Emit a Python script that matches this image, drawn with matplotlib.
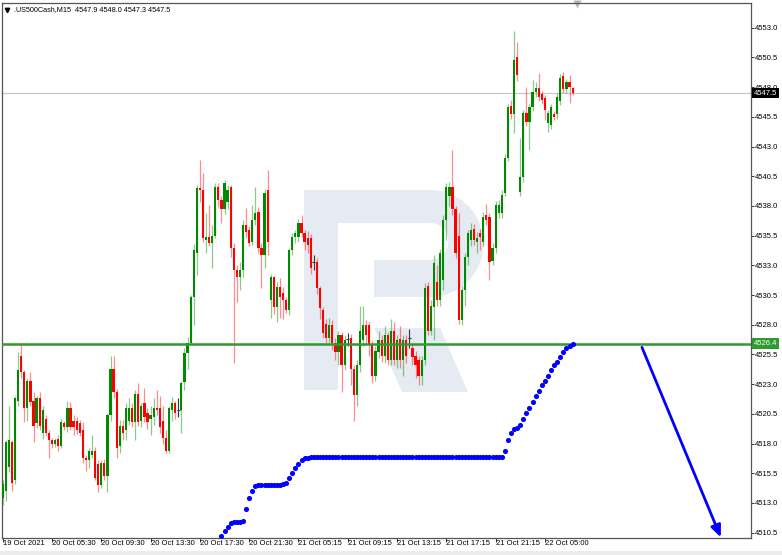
import numpy as np
import matplotlib.pyplot as plt
import matplotlib.transforms as mtransforms
from matplotlib.patches import Rectangle, Wedge, Polygon, FancyArrowPatch

plt.rcParams['font.family'] = ['Liberation Sans', 'DejaVu Sans']

# ==============================
# DATA (M15 candles)
# ==============================
header = ".US500Cash,M15  4547.9 4548.0 4547.3 4547.5"

opens = [
    4513.4, 4514.0, 4516.0, 4518.1, 4514.9, 4521.6, 4525.4, 4524.0, 4521.0, 4523.3,
    4521.6, 4519.7, 4521.8, 4518.9, 4520.1, 4518.9, 4518.3, 4518.0, 4518.4, 4517.8,
    4519.7, 4519.4, 4521.0, 4519.9, 4519.9, 4519.7, 4519.1, 4516.8, 4516.6, 4517.0,
    4517.4, 4516.3, 4514.5, 4516.4, 4515.3, 4520.4, 4524.3, 4522.3, 4517.8, 4519.5,
    4519.1, 4519.9, 4521.0, 4519.8, 4522.2, 4519.9, 4521.4, 4520.6, 4520.1, 4520.2,
    4521.0, 4521.0, 4519.9, 4518.5, 4517.4, 4520.8, 4521.4, 4520.8, 4520.8, 4523.2,
    4525.6, 4526.5, 4530.3, 4534.0, 4539.5, 4539.3, 4535.1, 4535.4, 4534.9, 4535.5,
    4539.6, 4538.5, 4537.7, 4538.3, 4539.6, 4534.5, 4532.6, 4532.0, 4532.6, 4536.4,
    4536.0, 4535.0, 4536.8, 4537.5, 4534.5, 4533.9, 4539.3, 4530.1, 4532.0, 4529.5,
    4531.2, 4530.7, 4530.1, 4529.2, 4534.3, 4535.4, 4535.4, 4536.6, 4535.7, 4535.3,
    4535.3, 4533.3, 4533.3, 4531.1, 4529.2, 4528.1, 4526.9, 4528.0, 4526.5, 4525.7,
    4527.1, 4524.6, 4526.8, 4526.9, 4524.3, 4522.1, 4524.6, 4526.7, 4528.0, 4528.0,
    4526.3, 4523.7, 4525.7, 4526.7, 4525.4, 4527.1, 4525.0, 4527.5, 4525.0, 4526.8,
    4525.0, 4526.7, 4526.9, 4526.0, 4525.4, 4525.0, 4523.7, 4525.0, 4531.3, 4527.5,
    4529.5, 4531.6, 4530.1, 4531.8, 4536.8, 4538.8, 4539.6, 4537.7, 4535.5, 4528.4,
    4530.9, 4533.7, 4535.1, 4536.1, 4535.0, 4535.7, 4535.0, 4537.2, 4537.1, 4533.4,
    4534.5, 4537.4, 4537.4, 4539.1, 4542.0, 4546.4, 4545.7, 4550.5, 4539.2, 4540.4,
    4545.8, 4545.1, 4546.3, 4547.6, 4547.9, 4547.4, 4547.1, 4545.0, 4544.8, 4545.7,
    4545.7, 4546.8, 4548.9, 4547.8, 4548.4, 4547.9,
]
highs = [
    4514.9, 4518.3, 4521.2, 4518.3, 4522.0, 4525.7, 4526.4, 4524.2, 4523.5, 4524.0,
    4522.3, 4522.0, 4522.3, 4521.2, 4520.4, 4519.1, 4518.5, 4518.5, 4518.7, 4520.1,
    4519.9, 4521.6, 4521.5, 4520.4, 4520.2, 4520.0, 4519.8, 4517.0, 4517.6, 4518.7,
    4517.7, 4516.6, 4516.6, 4516.7, 4520.6, 4525.4, 4525.4, 4522.6, 4520.0, 4520.0,
    4521.4, 4521.8, 4521.4, 4522.5, 4523.1, 4521.4, 4522.7, 4521.0, 4521.2, 4521.8,
    4522.5, 4522.0, 4521.2, 4519.1, 4521.2, 4521.9, 4521.6, 4521.8, 4523.3, 4526.0,
    4527.0, 4530.5, 4534.8, 4539.8, 4541.9, 4540.8, 4537.4, 4538.1, 4536.4, 4539.9,
    4539.9, 4538.8, 4540.2, 4539.8, 4539.8, 4534.9, 4533.0, 4533.3, 4536.8, 4537.8,
    4536.3, 4538.1, 4539.6, 4537.9, 4534.9, 4539.4, 4541.0, 4532.3, 4532.1, 4531.6,
    4531.9, 4531.2, 4530.3, 4534.5, 4535.7, 4536.0, 4536.9, 4537.2, 4536.0, 4535.9,
    4535.6, 4533.9, 4533.6, 4531.3, 4529.5, 4528.5, 4528.6, 4528.4, 4526.9, 4527.5,
    4527.4, 4527.1, 4527.3, 4527.2, 4524.6, 4525.0, 4529.6, 4529.6, 4528.4, 4528.2,
    4526.7, 4526.2, 4527.5, 4527.1, 4527.9, 4527.4, 4528.5, 4528.2, 4527.1, 4527.9,
    4527.1, 4527.1, 4527.6, 4526.4, 4525.8, 4525.4, 4525.4, 4531.5, 4531.6, 4530.1,
    4533.9, 4533.0, 4534.4, 4537.2, 4539.9, 4540.0, 4542.7, 4538.0, 4537.4, 4531.3,
    4534.0, 4536.0, 4536.6, 4536.5, 4535.8, 4536.1, 4537.5, 4538.2, 4537.4, 4534.9,
    4538.4, 4538.5, 4539.3, 4542.4, 4546.6, 4546.9, 4552.7, 4551.8, 4543.7, 4546.1,
    4548.0, 4546.6, 4548.6, 4548.4, 4549.2, 4547.7, 4547.3, 4546.1, 4546.6, 4546.0,
    4547.5, 4549.1, 4549.3, 4548.7, 4549.0, 4548.0,
]
lows = [
    4512.8, 4513.2, 4515.6, 4514.0, 4514.6, 4521.2, 4523.5, 4519.8, 4519.9, 4521.2,
    4518.1, 4519.3, 4519.1, 4518.4, 4518.6, 4516.8, 4517.6, 4517.7, 4517.4, 4517.6,
    4519.1, 4519.0, 4519.1, 4518.7, 4518.8, 4518.6, 4516.4, 4515.7, 4515.9, 4516.8,
    4514.9, 4513.9, 4514.3, 4514.9, 4513.9, 4519.9, 4521.8, 4516.8, 4517.2, 4518.3,
    4518.3, 4519.6, 4519.4, 4518.3, 4519.5, 4519.4, 4519.8, 4519.2, 4518.7, 4519.6,
    4520.4, 4518.9, 4518.0, 4517.2, 4517.2, 4519.9, 4520.1, 4520.2, 4518.9, 4522.5,
    4524.3, 4526.3, 4528.0, 4532.2, 4538.3, 4535.0, 4534.0, 4534.6, 4532.8, 4535.3,
    4537.9, 4536.6, 4537.3, 4537.7, 4533.7, 4524.8, 4529.9, 4530.9, 4532.0, 4535.3,
    4534.6, 4534.7, 4536.4, 4534.0, 4531.1, 4532.8, 4533.9, 4528.6, 4528.9, 4528.2,
    4528.6, 4528.5, 4529.0, 4528.8, 4533.9, 4534.9, 4535.0, 4535.4, 4534.3, 4534.0,
    4532.3, 4532.6, 4530.6, 4528.5, 4526.9, 4526.5, 4526.5, 4525.9, 4525.0, 4524.6,
    4522.3, 4524.2, 4526.2, 4522.9, 4519.9, 4521.2, 4524.0, 4526.2, 4526.4, 4525.4,
    4523.1, 4523.3, 4525.2, 4524.9, 4524.8, 4524.6, 4524.6, 4524.6, 4524.4, 4524.4,
    4523.7, 4524.8, 4526.0, 4524.6, 4523.5, 4522.9, 4522.9, 4524.6, 4527.1, 4527.1,
    4526.7, 4529.6, 4529.6, 4530.9, 4535.1, 4538.0, 4537.2, 4533.6, 4528.1, 4528.0,
    4529.6, 4533.0, 4534.6, 4534.7, 4534.0, 4534.3, 4534.6, 4536.4, 4531.8, 4533.0,
    4534.0, 4537.0, 4537.0, 4538.8, 4541.8, 4545.3, 4544.1, 4548.5, 4538.8, 4540.0,
    4544.7, 4542.7, 4546.0, 4547.2, 4546.8, 4546.6, 4545.2, 4544.2, 4544.5, 4545.2,
    4545.3, 4546.5, 4547.5, 4547.5, 4546.7, 4547.3,
]
closes = [
    4514.6, 4518.1, 4518.3, 4514.7, 4521.8, 4524.2, 4524.0, 4521.0, 4523.3, 4521.5,
    4519.5, 4521.8, 4519.5, 4520.8, 4518.9, 4518.3, 4518.0, 4518.3, 4517.8, 4519.8,
    4519.4, 4521.0, 4519.4, 4519.4, 4519.1, 4518.9, 4516.8, 4516.6, 4517.4, 4517.4,
    4515.1, 4514.5, 4516.4, 4515.3, 4520.4, 4524.3, 4522.3, 4517.6, 4519.5, 4518.9,
    4521.0, 4521.0, 4519.8, 4522.2, 4519.8, 4521.2, 4520.2, 4519.8, 4520.4, 4521.0,
    4520.8, 4519.4, 4518.5, 4517.4, 4521.0, 4521.4, 4520.6, 4520.8, 4523.1, 4525.6,
    4526.5, 4530.3, 4534.3, 4539.5, 4539.3, 4535.3, 4535.4, 4534.9, 4535.5, 4539.6,
    4538.5, 4537.7, 4539.9, 4539.3, 4534.5, 4532.6, 4532.0, 4532.6, 4536.4, 4535.8,
    4534.9, 4536.8, 4537.4, 4534.5, 4533.9, 4539.1, 4535.0, 4532.0, 4529.5, 4531.2,
    4530.3, 4530.1, 4529.2, 4534.3, 4535.4, 4535.7, 4536.6, 4535.7, 4535.0, 4534.7,
    4532.8, 4533.3, 4531.1, 4529.4, 4527.3, 4526.9, 4528.0, 4526.5, 4525.7, 4527.1,
    4524.6, 4526.7, 4526.8, 4524.3, 4522.1, 4524.6, 4527.5, 4528.0, 4527.1, 4526.3,
    4523.7, 4525.8, 4526.7, 4525.4, 4527.1, 4525.0, 4527.5, 4525.0, 4526.7, 4525.0,
    4526.7, 4525.4, 4526.9, 4525.3, 4524.6, 4523.7, 4525.0, 4531.1, 4527.5, 4529.6,
    4533.2, 4530.1, 4534.0, 4536.8, 4539.6, 4539.6, 4537.7, 4534.0, 4528.4, 4530.9,
    4533.7, 4535.7, 4536.0, 4535.1, 4535.3, 4535.4, 4537.1, 4536.8, 4533.3, 4534.5,
    4538.1, 4538.1, 4538.9, 4542.0, 4546.3, 4545.7, 4550.3, 4549.0, 4540.4, 4545.8,
    4545.1, 4546.3, 4547.6, 4547.9, 4547.2, 4546.9, 4546.1, 4545.8, 4546.3, 4545.5,
    4547.2, 4548.8, 4547.8, 4548.4, 4548.0, 4547.5,
]

# blue dotted indicator, one dot per bar starting at bar 71
dots_start = 71
dots = [
    4510.2, 4510.6, 4511.0, 4511.3, 4511.4, 4511.4, 4511.4, 4511.5, 4512.5, 4513.4,
    4514.0, 4514.4, 4514.5, 4514.5, 4514.5, 4514.5, 4514.5, 4514.5, 4514.5, 4514.5,
    4514.6, 4514.7, 4515.1, 4515.5, 4515.9, 4516.3, 4516.6, 4516.8, 4516.8, 4516.9,
    4516.9, 4516.9, 4516.9, 4516.9, 4516.9, 4516.9, 4516.9, 4516.9, 4516.9, 4516.9,
    4516.9, 4516.9, 4516.9, 4516.9, 4516.9, 4516.9, 4516.9, 4516.9, 4516.9, 4516.9,
    4516.9, 4516.9, 4516.9, 4516.9, 4516.9, 4516.9, 4516.9, 4516.9, 4516.9, 4516.9,
    4516.9, 4516.9, 4516.9, 4516.9, 4516.9, 4516.9, 4516.9, 4516.9, 4516.9, 4516.9,
    4516.9, 4516.9, 4516.9, 4516.9, 4516.9, 4516.9, 4516.9, 4516.9, 4516.9, 4516.9,
    4516.9, 4516.9, 4516.9, 4516.9, 4516.9, 4516.9, 4516.9, 4516.9, 4516.9, 4516.9,
    4516.9, 4516.9, 4517.4, 4518.3, 4518.9, 4519.2, 4519.3, 4519.6, 4520.1, 4520.6,
    4521.0, 4521.5, 4522.0, 4522.4, 4522.9, 4523.3, 4523.7, 4524.2, 4524.6, 4524.9,
    4525.3, 4525.7, 4526.0, 4526.2, 4526.4,
]

level_price = 4526.4
bid_price = 4547.5
arrow_from = (207.5, 4526.1)
arrow_to = (233.1, 4510.1)

xtick_bars = [0, 16, 32, 48, 64, 80, 96, 112, 128, 144, 160, 176]
xtick_labels = ["19 Oct 2021", "20 Oct 05:30", "20 Oct 09:30", "20 Oct 13:30",
                "20 Oct 17:30", "20 Oct 21:30", "21 Oct 05:15", "21 Oct 09:15",
                "21 Oct 13:15", "21 Oct 17:15", "21 Oct 21:15", "22 Oct 05:00"]
ytick_values = [4510.5, 4513.0, 4515.5, 4518.0, 4520.5, 4523.0, 4525.5, 4528.0, 4530.5,
                4533.0, 4535.5, 4538.0, 4540.5, 4543.0, 4545.5, 4548.0, 4550.5, 4553.0]

# ==============================
# FIGURE
# ==============================
W, H = 782, 555
fig = plt.figure(figsize=(W / 100, H / 100), dpi=100)
fig.patch.set_facecolor('white')

# background layer in pixel coordinates (watermark, header)
bg = fig.add_axes([0, 0, 1, 1])
bg.set_xlim(0, W)
bg.set_ylim(H, 0)
bg.axis('off')

wm = '#e6ebf3'
bg.add_patch(Rectangle((304, 190), 126, 107, color=wm, lw=0))
bg.add_patch(Wedge((430, 243.5), 53.5, -90, 90, color=wm, lw=0))
bg.add_patch(Rectangle((338, 223), 92, 37, color='white', lw=0))
bg.add_patch(Wedge((430, 241.5), 18.5, -90, 90, color='white', lw=0))
bg.add_patch(Rectangle((338, 259), 36, 39, color='white', lw=0))
bg.add_patch(Rectangle((304, 190), 34, 200, color=wm, lw=0))
bg.add_patch(Polygon([(374, 328), (440, 328), (468, 392), (402, 392)], color=wm, lw=0))

bg.add_patch(Rectangle((0, 551), W, 4, color='#ececec', lw=0))
bg.plot(7, 10, marker='v', ms=3.2, color='black')
bg.text(14, 10, header, fontsize=5.2, va='center', ha='left')
bg.plot(577, 4, marker='v', ms=5.5, color='#b4b4b4', mec='none')

# main chart
ax = fig.add_axes([1.5 / W, 17 / H, 749.5 / W, 535 / H])
ax.set_facecolor('none')
ax.set_zorder(2)

x = np.arange(len(opens))
o = np.array(opens)
h = np.array(highs)
l = np.array(lows)
c = np.array(closes)
up = c > o
dn = c < o
fl = c == o
green = '#008a00'
red = '#ff0000'

ax.vlines(x[up], l[up], h[up], color=green, alpha=0.45, lw=0.9, zorder=2)
ax.vlines(x[dn], l[dn], h[dn], color=red, alpha=0.45, lw=0.9, zorder=2)
ax.bar(x[up], (c - o)[up], bottom=o[up], width=0.72, color=green, lw=0, zorder=3)
ax.bar(x[dn], (o - c)[dn], bottom=c[dn], width=0.72, color=red, lw=0, zorder=3)
ax.vlines(x[fl], l[fl], h[fl], color='#333333', lw=0.8, zorder=3)
ax.hlines(c[fl], x[fl] - 0.5, x[fl] + 0.5, color='#333333', lw=0.8, zorder=3)

# horizontal lines
ax.axhline(bid_price, color='#c8c8c8', lw=0.9, zorder=1)
ax.axhline(level_price, color='#2f9a2f', lw=1.8, zorder=4)

# blue dots
ax.plot(np.arange(dots_start, dots_start + len(dots)), dots, 'o', color='#0000ff',
        ms=3.7, mec='none', zorder=5)

# blue arrow
arr = FancyArrowPatch(arrow_from, arrow_to, arrowstyle='-|>,head_length=0.7,head_width=0.3',
                      mutation_scale=10, color='#0000ff', lw=2, shrinkA=0, shrinkB=0,
                      zorder=6, clip_on=False)
ax.add_patch(arr)

ax.set_xlim(-0.39, 242.9)
ax.set_ylim(4510.05, 4555.08)

for s in ax.spines.values():
    s.set_color('#555555')
    s.set_linewidth(0.9)

ax.set_xticks(xtick_bars)
ax.set_xticklabels(xtick_labels, fontsize=5.5, ha='left')
off = mtransforms.ScaledTranslation(2 / 100, 0, fig.dpi_scale_trans)
for lab in ax.get_xticklabels():
    lab.set_transform(lab.get_transform() + off)
ax.tick_params(axis='x', length=3.2, width=0.7, pad=-1.6, color='#333333')

ax.yaxis.tick_right()
ax.set_yticks(ytick_values)
ax.set_yticklabels([f"{v:.1f}" for v in ytick_values], fontsize=5.5)
ax.tick_params(axis='y', length=2, width=0.7, pad=1, color='#333333')

# price labels on the right scale
ytr = ax.get_yaxis_transform()
ax.text(1.004, bid_price, f"{bid_price:.1f}", transform=ytr, fontsize=5.5, color='white',
        va='center', ha='left', zorder=10, clip_on=False,
        bbox=dict(boxstyle='square,pad=0.25', fc='black', ec='none'))
ax.text(1.004, level_price, f"{level_price:.1f}", transform=ytr, fontsize=5.5, color='white',
        va='center', ha='left', zorder=10, clip_on=False,
        bbox=dict(boxstyle='square,pad=0.25', fc='#2f9a2f', ec='none'))

fig.savefig('out.png', dpi=100)
